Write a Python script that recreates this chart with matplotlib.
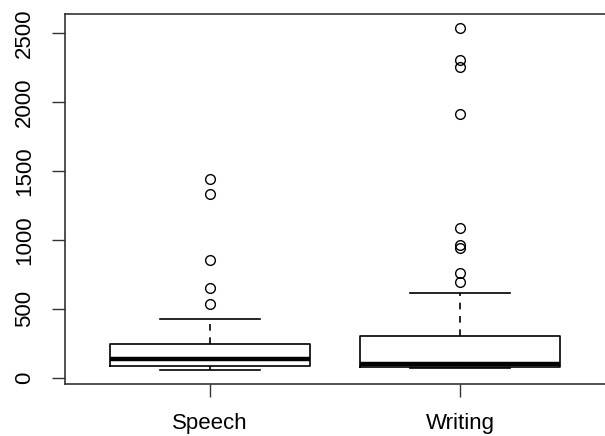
import matplotlib
matplotlib.use("Agg")
import matplotlib.pyplot as plt

# values
labels = ["Speech", "Writing"]
whislo = [54, 69]
q1 = [86, 76]
med = [136, 102]
q3 = [248, 306]
whishi = [429, 618]
speech_out = [534, 654, 853, 1332, 1441]
writing_out = [698, 763, 940, 964, 1085, 1915, 2258, 2307, 2539]
yticks = [0, 500, 1000, 1500, 2000, 2500]

plt.rcParams['font.family'] = ['Liberation Sans', 'DejaVu Sans']

stats = []
fliers = [speech_out, writing_out]
for i in range(len(labels)):
    stats.append({"label": labels[i], "whislo": whislo[i], "q1": q1[i], "med": med[i],
                  "q3": q3[i], "whishi": whishi[i], "fliers": fliers[i]})

fig = plt.figure(figsize=(6.05, 4.36), dpi=100)
# plot region runs past the right edge of the picture (cropped in the reference)
ax = fig.add_axes([65/605, (436-383.5)/436, 543/605, (383.5-14)/436])

ax.bxp(stats, positions=[1, 2], widths=0.8, showcaps=True, patch_artist=False,
       boxprops=dict(color="black", linewidth=1.2),
       medianprops=dict(color="black", linewidth=3.2, solid_capstyle="butt"),
       whiskerprops=dict(color="black", linewidth=1.2, linestyle=(0, (4, 4))),
       capprops=dict(color="black", linewidth=1.2),
       capwidths=0.4,
       flierprops=dict(marker="o", markersize=7, markerfacecolor="none",
                       markeredgecolor="black", markeredgewidth=1.0))

ax.set_xlim(0.42, 0.42 + 543/250)
ax.set_ylim(-42, 2641)
ax.set_yticks(yticks)
ax.set_yticklabels([str(t) for t in yticks], rotation=90, va="center")
ax.set_xticks([1, 2])
ax.set_xticklabels(labels)
ax.tick_params(axis="both", length=9.4, width=1.0, pad=12, labelsize=16, color="#333333")
for s in ax.spines.values():
    s.set_linewidth(1.2)
    s.set_color("#333333")

fig.savefig("out.png", dpi=100)
